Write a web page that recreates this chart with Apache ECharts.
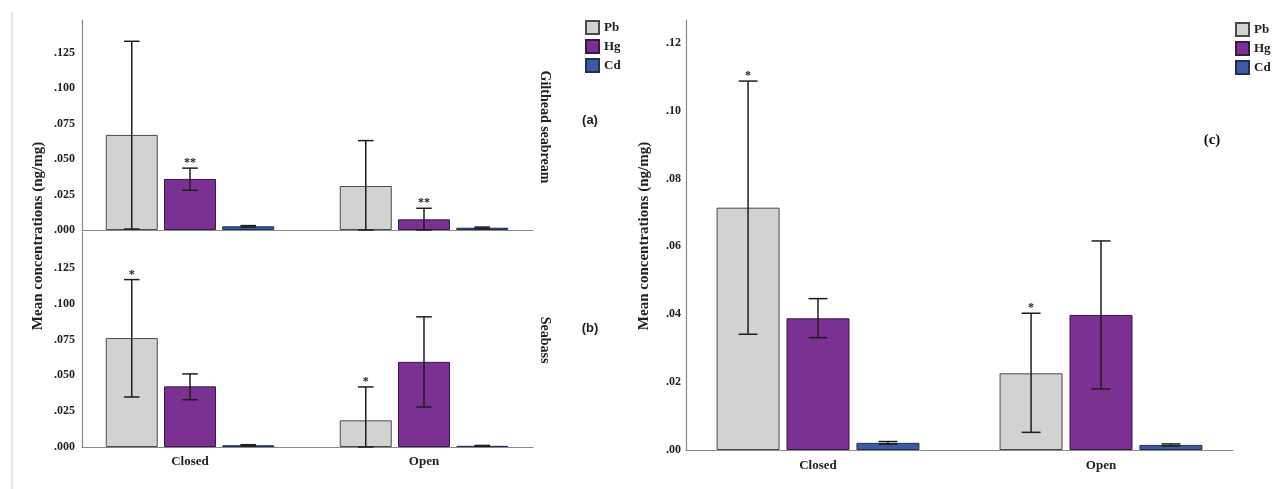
<!DOCTYPE html>
<html><head><meta charset="utf-8">
<script src="https://cdn.jsdelivr.net/npm/echarts@6/dist/echarts.min.js"></script>
<style>html,body{margin:0;padding:0;background:#fff}#c{width:1272px;height:489px}</style>
</head><body><div id="c"></div>
<script>
// ---------- DATA ----------
const categories = ['Closed', 'Open'];
const metals = ['Pb', 'Hg', 'Cd'];

// (a) Gilthead seabream
const breamPb = [0.067, 0.031];
const breamHg = [0.036, 0.0075];
const breamCd = [0.0026, 0.0016];
const breamPbCI = [[0.0007, 0.133], [0.0, 0.063]];
const breamHgCI = [[0.028, 0.0436], [0.0, 0.0153]];
const breamCdCI = [[0.0021, 0.0031], [0.0011, 0.0021]];
const breamPbStars = ['', ''];
const breamHgStars = ['**', '**'];
const breamCdStars = ['', ''];

// (b) Seabass
const bassPb = [0.076, 0.0186];
const bassHg = [0.0423, 0.0594];
const bassCd = [0.0012, 0.0008];
const bassPbCI = [[0.0349, 0.1168], [0.0, 0.0419]];
const bassHgCI = [[0.033, 0.051], [0.0279, 0.0908]];
const bassCdCI = [[0.0008, 0.0016], [0.0005, 0.0011]];
const bassPbStars = ['*', '*'];
const bassHgStars = ['', ''];
const bassCdStars = ['', ''];

// (c) Both species
const allPb = [0.0714, 0.0226];
const allHg = [0.0388, 0.0398];
const allCd = [0.0021, 0.0015];
const allPbCI = [[0.0341, 0.1087], [0.0052, 0.0403]];
const allHgCI = [[0.0331, 0.0446], [0.018, 0.0616]];
const allCdCI = [[0.0017, 0.0025], [0.0012, 0.0018]];
const allPbStars = ['*', '*'];
const allHgStars = ['', ''];
const allCdStars = ['', ''];

// ---------- STYLE ----------
const fills = { Pb: '#d2d2d2', Hg: '#7a3191', Cd: '#3d5a9e' };
const borders = { Pb: '#4a4a4a', Hg: '#3a1747', Cd: '#1f2e5c' };
const SERIF = '"Liberation Serif", "DejaVu Serif", serif';

const chart = echarts.init(document.getElementById('c'));

function yFmt(step, digits, top) {
  return function (v) {
    const r = v / step;
    if (Math.abs(r - Math.round(r)) > 1e-6 || v > top + 1e-9) return '';
    return v.toFixed(digits).replace(/^0/, '');
  };
}

function errSeries(gi, ci, stars, offsetPx, capW) {
  return {
    type: 'custom', xAxisIndex: gi, yAxisIndex: gi, silent: true, clip: false, z: 5,
    data: ci.map((p, i) => [i, p[0], p[1]]),
    encode: { x: 0, y: [1, 2] },
    renderItem: function (params, api) {
      const idx = api.value(0);
      const lo = api.coord([idx, api.value(1)]);
      const hi = api.coord([idx, api.value(2)]);
      const x = lo[0] + offsetPx;
      const st = { stroke: '#1e1e1e', lineWidth: 1.5 };
      const children = [
        { type: 'line', shape: { x1: x, y1: lo[1], x2: x, y2: hi[1] }, style: st },
        { type: 'line', shape: { x1: x - capW / 2, y1: hi[1], x2: x + capW / 2, y2: hi[1] }, style: st },
        { type: 'line', shape: { x1: x - capW / 2, y1: lo[1], x2: x + capW / 2, y2: lo[1] }, style: st }
      ];
      const s = stars[params.dataIndex];
      if (s) {
        children.push({ type: 'text', style: { text: s, x: x, y: hi[1] + 1, align: 'center', verticalAlign: 'bottom',
          font: 'bold 12px ' + SERIF, fill: '#222' } });
      }
      return { type: 'group', children: children };
    }
  };
}

function barSeries(gi, name, data, bw, gap) {
  return {
    type: 'bar', name: name, xAxisIndex: gi, yAxisIndex: gi,
    data: data.map((v, i) => [i, v]),
    barWidth: bw, barGap: gap,
    itemStyle: { color: fills[name], borderColor: borders[name], borderWidth: 1 }
  };
}

function panelSeries(gi, vals, cis, stars, bw, gapPct) {
  const out = [];
  metals.forEach((m, k) => out.push(barSeries(gi, m, vals[k], bw, gapPct + '%')));
  const step = bw * (1 + gapPct / 100);
  metals.forEach((m, k) => out.push(errSeries(gi, cis[k], stars[k], (k - 1) * step, bw * 0.3)));
  return out;
}

const axisLineStyle = { lineStyle: { color: '#8a8a8a', width: 1.2 } };

function xAx(gi, showLabel, margin, min, max) {
  return {
    type: 'value', gridIndex: gi, min: min, max: max,
    splitLine: { show: false },
    axisLine: Object.assign({ onZero: false }, axisLineStyle), axisTick: { show: false },
    axisLabel: { show: showLabel, margin: margin, color: '#222', fontFamily: SERIF, fontWeight: 'bold', fontSize: 13,
      customValues: [0, 1], formatter: v => categories[Math.round(v)] || '' }
  };
}
function yAx(gi, max, step, digits, top, margin) {
  return {
    type: 'value', gridIndex: gi, min: 0, max: max, interval: step,
    axisLine: Object.assign({ show: true, onZero: false }, axisLineStyle), axisTick: { show: false }, splitLine: { show: false },
    axisLabel: { formatter: yFmt(step, digits, top), margin: margin, color: '#222', fontFamily: SERIF, fontWeight: 'bold', fontSize: 12 }
  };
}

const legendText = { fontFamily: SERIF, fontWeight: 'bold', fontSize: 13, color: '#222' };

const option = {
  animation: false,
  backgroundColor: '#fff',
  grid: [
    { left: 82, top: 20, width: 451, height: 210 },
    { left: 82, top: 232, width: 451, height: 215 },
    { left: 686, top: 20, width: 547, height: 430 }
  ],
  xAxis: [
    xAx(0, false, 8, -0.4615, 1.4658),
    xAx(1, true, 8, -0.4615, 1.4658),
    xAx(2, true, 9, -0.4664, 1.4664)
  ],
  yAxis: [yAx(0, 0.148, 0.025, 3, 0.125, 7), yAx(1, 0.15, 0.025, 3, 0.125, 7), yAx(2, 0.1267, 0.02, 2, 0.12, 5)],
  legend: [
    { data: metals, orient: 'vertical', left: 585, top: 20, padding: 0, itemWidth: 13, itemHeight: 13, itemGap: 4, icon: 'rect',
      textStyle: legendText, selectedMode: false },
    { data: metals, orient: 'vertical', left: 1235, top: 22, padding: 0, itemWidth: 13, itemHeight: 13, itemGap: 4, icon: 'rect',
      textStyle: legendText, selectedMode: false }
  ],
  series: [].concat(
    panelSeries(0, [breamPb, breamHg, breamCd], [breamPbCI, breamHgCI, breamCdCI], [breamPbStars, breamHgStars, breamCdStars], 52, 12),
    panelSeries(1, [bassPb, bassHg, bassCd], [bassPbCI, bassHgCI, bassCdCI], [bassPbStars, bassHgStars, bassCdStars], 52, 12),
    panelSeries(2, [allPb, allHg, allCd], [allPbCI, allHgCI, allCdCI], [allPbStars, allHgStars, allCdStars], 63, 11)
  ),
  graphic: [
    { type: 'line', shape: { x1: 12, y1: 12, x2: 12, y2: 489 }, style: { stroke: '#d0d0d0', lineWidth: 1 } },
    { type: 'text', x: 38, y: 236, rotation: Math.PI / 2,
      style: { text: 'Mean concentrations (ng/mg)', align: 'center', verticalAlign: 'middle', font: 'bold 15px ' + SERIF, fill: '#222' } },
    { type: 'text', x: 644, y: 236, rotation: Math.PI / 2,
      style: { text: 'Mean concentrations (ng/mg)', align: 'center', verticalAlign: 'middle', font: 'bold 15px ' + SERIF, fill: '#222' } },
    { type: 'text', x: 545, y: 127, rotation: -Math.PI / 2,
      style: { text: 'Gilthead seabream', align: 'center', verticalAlign: 'middle', font: 'bold 14px ' + SERIF, fill: '#222' } },
    { type: 'text', x: 545, y: 340, rotation: -Math.PI / 2,
      style: { text: 'Seabass', align: 'center', verticalAlign: 'middle', font: 'bold 14px ' + SERIF, fill: '#222' } },
    { type: 'text', x: 590, y: 120, style: { text: '(a)', align: 'center', verticalAlign: 'middle', font: 'bold 13px "Liberation Sans", sans-serif', fill: '#222' } },
    { type: 'text', x: 590, y: 328, style: { text: '(b)', align: 'center', verticalAlign: 'middle', font: 'bold 13px "Liberation Sans", sans-serif', fill: '#222' } },
    { type: 'text', x: 1212, y: 140, style: { text: '(c)', align: 'center', verticalAlign: 'middle', font: 'bold 15px ' + SERIF, fill: '#111' } }
  ]
};
chart.setOption(option);
</script>
</body></html>
